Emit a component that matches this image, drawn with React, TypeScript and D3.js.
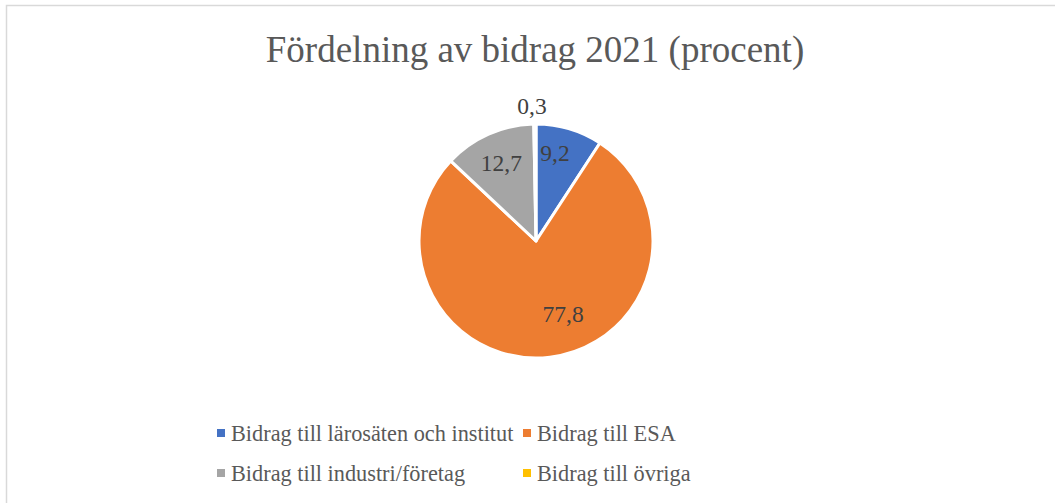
import React from "react";
import * as d3 from "d3";

const categories = [
  "Bidrag till lärosäten och institut",
  "Bidrag till ESA",
  "Bidrag till industri/företag",
  "Bidrag till övriga",
];
const values = [9.2, 77.8, 12.7, 0.3];
const valueLabels = ["9,2", "77,8", "12,7", "0,3"];
const colors = ["#4472C4", "#ED7D31", "#A5A5A5", "#FFC000"];
const title = "Fördelning av bidrag 2021 (procent)";

const W = 1055;
const H = 503;
const cx = 536;
const cy = 241;
const R = 117;

// label placement: radius factor and angle shift (radians) per slice
const labelRadius = [0.77, 0.667, 0.73, 1.155];
const labelShift = [-0.077, -0.235, 0, -0.02];

export default function App() {
  const pie = d3
    .pie<number>()
    .sort(null)
    .value((d) => d)(values);
  const arc = d3.arc<d3.PieArcDatum<number>>().innerRadius(0).outerRadius(R);
  const font = "'Liberation Serif', 'Times New Roman', serif";

  const legendCols = [217, 523];
  const legendRows = [433, 473];

  return (
    <svg
      width={W}
      height={H}
      style={{ position: "absolute", left: 0, top: 0, background: "#fff" }}
      fontFamily={font}
    >
      <rect x={6.5} y={5.5} width={W + 10} height={H + 10} fill="#fff" stroke="#D9D9D9" strokeWidth={1.5} />
      <text x={535} y={49} textAnchor="middle" dominantBaseline="central" fontSize={37} fill="#595959">
        {title}
      </text>
      <g transform={`translate(${cx},${cy})`}>
        {pie.map((p, i) => (
          <path key={i} d={arc(p) || ""} fill={colors[i]} stroke="#fff" strokeWidth={3} strokeLinejoin="round" />
        ))}
        {pie.map((p, i) => {
          const a = (p.startAngle + p.endAngle) / 2 + labelShift[i];
          const r = R * labelRadius[i];
          const x = Math.sin(a) * r;
          const y = -Math.cos(a) * r;
          return (
            <text
              key={"l" + i}
              x={x}
              y={y}
              textAnchor="middle"
              dominantBaseline="central"
              fontSize={23.5}
              fill="#404040"
            >
              {valueLabels[i]}
            </text>
          );
        })}
      </g>
      {categories.map((c, i) => {
        const x = legendCols[i % 2];
        const y = legendRows[Math.floor(i / 2)];
        return (
          <g key={"g" + i}>
            <rect x={x} y={y - 4} width={8} height={8} fill={colors[i]} />
            <text x={x + 14} y={y} dominantBaseline="central" fontSize={22.3} fill="#595959">
              {c}
            </text>
          </g>
        );
      })}
    </svg>
  );
}
